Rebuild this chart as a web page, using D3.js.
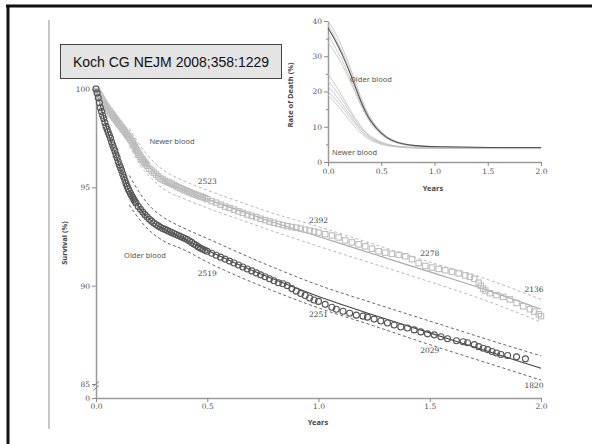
<!DOCTYPE html>
<html><head><meta charset="utf-8">
<script src="https://cdn.jsdelivr.net/npm/d3@7"></script>
<style>
html,body{margin:0;padding:0;background:#fff;}
svg{display:block;}
</style></head>
<body>
<script>
// ---------- DATA ----------
const citation = "Koch CG NEJM 2008;358:1229";
const seriesNames = ["Newer blood", "Older blood"];
const mainXTicks = [0, 0.5, 1, 1.5, 2];
const mainYTicks = [0, 85, 90, 95, 100];
const insetXTicks = [0, 0.5, 1, 1.5, 2];
const insetYTicks = [0, 10, 20, 30, 40];
const insetYMinor = [5, 15, 25, 35];

// Kaplan-Meier points, newer blood (years, survival %)
const newerT = [0,0.005,0.01,0.015,0.02,0.025,0.03,0.035,0.04,0.045,0.05,0.055,0.06,0.065,0.07,0.075,0.08,0.085,0.09,0.095,0.1,0.105,0.11,0.115,0.12,0.125,0.13,0.135,0.14,0.145,0.15,0.155,0.16,0.165,0.17,0.175,0.18,0.185,0.19,0.195,0.2,0.205,0.21,0.215,0.22,0.225,0.23,0.24,0.25,0.26,0.27,0.28,0.29,0.3,0.31,0.32,0.33,0.34,0.35,0.36,0.37,0.38,0.39,0.4,0.41,0.42,0.43,0.44,0.45,0.46,0.47,0.48,0.49,0.5,0.52,0.54,0.56,0.58,0.6,0.62,0.64,0.66,0.68,0.7,0.72,0.74,0.76,0.78,0.8,0.82,0.84,0.86,0.88,0.9,0.92,0.94,0.96,0.98,1.0,1.03,1.06,1.09,1.12,1.15,1.18,1.21,1.24,1.27,1.3,1.33,1.36,1.39,1.42,1.45,1.48,1.51,1.54,1.57,1.6,1.63,1.66,1.68,1.7,1.72,1.73,1.74,1.75,1.77,1.8,1.83,1.86,1.89,1.92,1.95,1.97,1.99,2.0];
const newerS = [100,99.9,99.8,99.7,99.6,99.5,99.4,99.3,99.2,99.12,99.05,98.95,98.88,98.8,98.72,98.65,98.57,98.5,98.42,98.35,98.27,98.2,98.12,98.05,97.97,97.9,97.82,97.75,97.67,97.6,97.52,97.43,97.35,97.25,97.15,97.05,96.95,96.85,96.75,96.65,96.55,96.45,96.4,96.3,96.25,96.18,96.1,95.95,95.85,95.75,95.65,95.55,95.45,95.4,95.33,95.28,95.23,95.18,95.12,95.06,95.0,94.95,94.9,94.85,94.8,94.75,94.7,94.66,94.62,94.58,94.53,94.5,94.45,94.4,94.3,94.22,94.12,94.02,93.95,93.87,93.78,93.7,93.62,93.55,93.48,93.4,93.33,93.26,93.2,93.14,93.08,93.03,92.98,92.95,92.9,92.85,92.8,92.75,92.7,92.62,92.55,92.45,92.3,92.2,92.1,92.0,91.88,91.75,91.68,91.62,91.57,91.5,91.35,91.15,91.0,90.92,90.85,90.78,90.7,90.62,90.52,90.45,90.35,90.15,90.0,89.85,89.75,89.62,89.52,89.43,89.3,89.12,88.95,88.8,88.68,88.55,88.45];

// Kaplan-Meier points, older blood
const olderT = [0,0.005,0.01,0.015,0.02,0.025,0.03,0.035,0.04,0.045,0.05,0.055,0.06,0.065,0.07,0.075,0.08,0.085,0.09,0.095,0.1,0.105,0.11,0.115,0.12,0.125,0.13,0.135,0.14,0.145,0.15,0.155,0.16,0.165,0.17,0.175,0.18,0.19,0.2,0.21,0.22,0.23,0.24,0.25,0.26,0.27,0.28,0.29,0.3,0.31,0.32,0.33,0.34,0.35,0.36,0.37,0.38,0.39,0.4,0.41,0.42,0.43,0.44,0.45,0.46,0.47,0.48,0.49,0.5,0.52,0.54,0.56,0.58,0.6,0.62,0.64,0.66,0.68,0.7,0.72,0.74,0.76,0.78,0.8,0.82,0.84,0.86,0.88,0.9,0.92,0.94,0.96,0.98,1.0,1.03,1.06,1.08,1.11,1.14,1.17,1.2,1.22,1.25,1.28,1.31,1.34,1.37,1.4,1.43,1.46,1.49,1.52,1.55,1.58,1.62,1.65,1.67,1.7,1.72,1.74,1.76,1.78,1.8,1.82,1.85,1.89,1.93];
const olderS = [100,99.8,99.55,99.3,99.05,98.85,98.65,98.5,98.3,98.1,97.95,97.8,97.65,97.5,97.3,97.15,97.0,96.85,96.65,96.5,96.3,96.15,96.0,95.85,95.68,95.52,95.36,95.2,95.05,94.92,94.8,94.69,94.58,94.48,94.38,94.29,94.2,94.03,93.88,93.74,93.61,93.49,93.38,93.28,93.19,93.11,93.04,92.97,92.91,92.86,92.81,92.75,92.7,92.65,92.6,92.55,92.5,92.45,92.4,92.35,92.27,92.2,92.12,92.05,91.97,91.9,91.85,91.8,91.75,91.65,91.55,91.45,91.35,91.25,91.15,91.05,90.95,90.85,90.75,90.65,90.55,90.45,90.35,90.25,90.15,90.1,90.0,89.85,89.72,89.6,89.5,89.37,89.27,89.2,89.05,88.9,88.8,88.7,88.6,88.5,88.45,88.4,88.3,88.2,88.1,88.0,87.9,87.85,87.75,87.65,87.55,87.5,87.4,87.3,87.2,87.15,87.1,87.0,86.9,86.82,86.75,86.65,86.58,86.5,86.45,86.38,86.28];

// fitted model curves and 95% bands
const newerFitT = [0,0.05,0.1,0.15,0.2,0.25,0.3,0.4,0.5,0.65,0.75,1.0,1.25,1.5,1.75,2.0];
const newerFit  = [100,99.05,98.3,97.55,96.6,95.9,95.4,94.85,94.4,93.8,93.4,92.5,91.6,90.7,89.8,88.8];
const newerBandT = [0.15,0.2,0.25,0.3,0.4,0.5,0.65,0.75,1.0,1.25,1.5,1.75,2.0];
const newerUpper = [98.0,97.1,96.4,95.9,95.3,94.85,94.25,93.85,93.0,92.1,91.2,90.35,89.3];
const newerLower = [97.1,96.1,95.45,94.95,94.4,93.95,93.35,92.95,92.0,91.1,90.2,89.25,88.15];

const olderFitT = [0,0.05,0.1,0.15,0.2,0.25,0.3,0.4,0.5,0.75,1.0,1.25,1.5,1.75,2.0];
const olderFit  = [100,97.95,96.3,94.8,93.88,93.28,92.9,92.35,91.8,90.55,89.45,88.5,87.6,86.7,85.8];
const olderBandT = [0.15,0.2,0.25,0.3,0.4,0.5,0.75,1.0,1.25,1.5,1.75,2.0];
const olderUpper = [95.6,94.65,93.95,93.5,92.9,92.4,91.15,90.03,89.1,88.2,87.3,86.43];
const olderLower = [94.1,93.3,92.7,92.3,91.8,91.2,89.95,88.87,87.95,87.0,86.1,85.2];

// number at risk labels
const riskT = [0.5, 1.0, 1.5, 2.0];
const newerRisk = ["2523", "2392", "2278", "2136"];
const newerRiskY = [95.15, 93.2, 91.5, 89.7];
const olderRisk = ["2519", "2251", "2029", "1820"];
const olderRiskY = [90.5, 88.4, 86.6, 84.6];

// inset: rate of death (%)
const insetT = [0,0.05,0.1,0.15,0.2,0.25,0.3,0.35,0.4,0.5,0.6,0.7,0.8,1.0,1.5,2.0];
const olderRateMain = [38,35.5,32.6,29.4,25.8,21.8,17.8,14.3,11.5,7.9,6.0,5.1,4.6,4.3,4.1,4.1];
const olderRateA = [40,37.8,34.8,31.3,27.5,23.3,19.0,15.3,12.3,8.3,6.2,5.2,4.7,4.3,4.1,4.1];
const olderRateB = [39,36.4,33.4,30.2,26.5,22.4,18.4,14.8,11.9,8.1,6.1,5.2,4.6,4.3,4.1,4.1];
const olderRateC = [36,33.5,30.8,27.8,24.4,20.8,17.2,13.9,11.2,7.7,5.9,5.0,4.5,4.2,4.0,4.0];
const olderRateD = [34,31.8,29.4,26.6,23.5,20.1,16.6,13.5,10.9,7.5,5.8,4.9,4.5,4.2,4.0,4.0];
const newerRate1 = [25,22.8,20.4,17.8,15.2,12.6,10.4,8.6,7.2,5.5,4.7,4.3,4.1,4.0,3.9,3.9];
const newerRate2 = [23,21.2,19.2,16.9,14.5,12.1,10.0,8.3,7.0,5.4,4.6,4.3,4.1,4.0,3.9,3.9];
const newerRate3 = [21.5,19.8,17.9,15.8,13.6,11.4,9.5,7.9,6.7,5.2,4.5,4.2,4.0,3.9,3.9,3.9];
const newerRate4 = [20,18.5,16.8,14.9,12.9,10.9,9.1,7.6,6.5,5.1,4.5,4.2,4.0,3.9,3.9,3.9];
const newerRate5 = [19,17.4,15.7,13.8,11.9,10.0,8.4,7.1,6.1,4.9,4.4,4.1,4.0,3.9,3.8,3.8];

// ---------- DRAW ----------
const W = 592, H = 444;
const svg = d3.select("body").append("svg").attr("width", W).attr("height", H);
const sans = "'Noto Sans', 'DejaVu Sans', sans-serif";
const serif = "'DejaVu Serif', 'Liberation Serif', serif";

// slide frame
svg.append("line").attr("x1",6).attr("x2",W).attr("y1",6).attr("y2",6).attr("stroke","#111").attr("stroke-width",3);
svg.append("line").attr("x1",8).attr("x2",8).attr("y1",5).attr("y2",H).attr("stroke","#111").attr("stroke-width",3);
svg.append("line").attr("x1",49).attr("x2",49).attr("y1",20).attr("y2",429).attr("stroke","#c8c8c8").attr("stroke-width",2);

// main scales
const x = d3.scaleLinear().domain([0,2]).range([96,541]);
const y = d3.scaleLinear().domain([0,84.3,85,100]).range([398,391,384,89]);

function styleAxis(g){
  g.selectAll(".domain").attr("stroke","#9a9a9a").attr("stroke-width",1.5);
  g.selectAll(".tick line").attr("stroke","#8a8a8a").attr("stroke-width",1);
  g.selectAll(".tick text").attr("fill","#555").style("font-family",serif).style("font-size","7.5px");
}

const gx = svg.append("g").attr("transform","translate(0,398)")
  .call(d3.axisBottom(x).tickValues(mainXTicks).tickFormat(d3.format(".1f")).tickSize(4).tickSizeOuter(0).tickPadding(2));
styleAxis(gx);
const gy = svg.append("g").attr("transform","translate(96,0)")
  .call(d3.axisLeft(y).tickValues(mainYTicks).tickFormat(d3.format("d")).tickSize(4).tickSizeOuter(0).tickPadding(2));
styleAxis(gy);
// axis break marks
svg.append("path")
  .attr("d", `M${x(0)-3},${y(84.75)} L${x(0)+3},${y(84.95)-3} M${x(0)-3},${y(84.45)+1} L${x(0)+3},${y(84.65)-2}`)
  .attr("stroke","#888").attr("stroke-width",1).attr("fill","none");

// bands and fits
const lineFn = (tArr, vArr, sx, sy, curve) => d3.line().curve(curve || d3.curveMonotoneX)
  .x((d,i)=>sx(tArr[i])).y((d,i)=>sy(vArr[i]))(vArr);

const newerCol = "#b8b8b8";
svg.append("path").attr("d", lineFn(newerBandT,newerUpper,x,y)).attr("fill","none").attr("stroke",newerCol).attr("stroke-width",1).attr("stroke-dasharray","3,2.5");
svg.append("path").attr("d", lineFn(newerBandT,newerLower,x,y)).attr("fill","none").attr("stroke",newerCol).attr("stroke-width",1).attr("stroke-dasharray","3,2.5");
svg.append("path").attr("d", lineFn(olderBandT,olderUpper,x,y)).attr("fill","none").attr("stroke","#666").attr("stroke-width",1).attr("stroke-dasharray","3,2.5");
svg.append("path").attr("d", lineFn(olderBandT,olderLower,x,y)).attr("fill","none").attr("stroke","#666").attr("stroke-width",1).attr("stroke-dasharray","3,2.5");
svg.append("path").attr("d", lineFn(newerFitT,newerFit,x,y)).attr("fill","none").attr("stroke","#aaa").attr("stroke-width",1.2);
svg.append("path").attr("d", lineFn(olderFitT,olderFit,x,y)).attr("fill","none").attr("stroke","#444").attr("stroke-width",1.1);

// markers
svg.append("g").selectAll("rect").data(newerS).join("rect")
  .attr("x",(d,i)=>x(newerT[i])-2.7).attr("y",d=>y(d)-2.7).attr("width",5.4).attr("height",5.4)
  .attr("fill","none").attr("stroke","#bdbdbd").attr("stroke-width",1.1);
svg.append("g").selectAll("circle").data(olderS).join("circle")
  .attr("cx",(d,i)=>x(olderT[i])).attr("cy",d=>y(d)).attr("r",3)
  .attr("fill","none").attr("stroke","#555").attr("stroke-width",1.1);

// number at risk
const riskG = svg.append("g").style("font-family",serif).style("font-size","7.5px").attr("fill","#444").attr("text-anchor","middle");
riskG.selectAll("text.n").data(newerRisk).join("text").attr("class","n")
  .attr("x",(d,i)=>Math.min(x(riskT[i]),534)).attr("y",(d,i)=>y(newerRiskY[i])).text(d=>d);
riskG.selectAll("text.o").data(olderRisk).join("text").attr("class","o")
  .attr("x",(d,i)=>Math.min(x(riskT[i]),534)).attr("y",(d,i)=>y(olderRiskY[i])).text(d=>d);

// series labels
svg.append("text").attr("x",172).attr("y",144).attr("text-anchor","middle").attr("fill","#555")
  .style("font-family",sans).style("font-size","7.5px").text(seriesNames[0]);
svg.append("text").attr("x",145).attr("y",258).attr("text-anchor","middle").attr("fill","#555")
  .style("font-family",sans).style("font-size","7.5px").text(seriesNames[1]);

// axis titles
svg.append("text").attr("x",318).attr("y",425).attr("text-anchor","middle").attr("fill","#444")
  .style("font-family",sans).style("font-size","7.5px").style("font-weight","bold").text("Years");
svg.append("text").attr("transform","translate(67,243) rotate(-90)").attr("text-anchor","middle").attr("fill","#444")
  .style("font-family",sans).style("font-size","7.5px").style("font-weight","bold").text("Survival (%)");

// ---------- INSET ----------
const xi = d3.scaleLinear().domain([0,2]).range([328,541]);
const yi = d3.scaleLinear().domain([0,40]).range([162,21]);
svg.append("defs").append("clipPath").attr("id","insetClip")
  .append("rect").attr("x",280).attr("y",17).attr("width",300).attr("height",190);
const inset = svg.append("g").attr("clip-path","url(#insetClip)");

const gxi = inset.append("g").attr("transform","translate(0,162)")
  .call(d3.axisBottom(xi).tickValues(insetXTicks).tickFormat(d3.format(".1f")).tickSize(4).tickSizeOuter(0).tickPadding(3));
styleAxis(gxi);
const gyi = inset.append("g").attr("transform","translate(328,0)")
  .call(d3.axisLeft(yi).tickValues(insetYTicks).tickFormat(d3.format("d")).tickSize(4).tickSizeOuter(0).tickPadding(2));
styleAxis(gyi);
inset.append("g").attr("transform","translate(328,0)")
  .call(d3.axisLeft(yi).tickValues(insetYMinor).tickFormat("").tickSize(2).tickSizeOuter(0))
  .call(g=>{g.select(".domain").remove(); g.selectAll("line").attr("stroke","#8a8a8a");});

const lightRates = [newerRate5,newerRate4,newerRate3,newerRate2,newerRate1,olderRateD,olderRateC,olderRateB,olderRateA];
inset.append("g").selectAll("path").data(lightRates).join("path")
  .attr("d", d=>lineFn(insetT,d,xi,yi,d3.curveBasis))
  .attr("fill","none").attr("stroke","#c4c4c4").attr("stroke-width",0.9);
inset.append("path").attr("d", lineFn(insetT,olderRateMain,xi,yi,d3.curveBasis))
  .attr("fill","none").attr("stroke","#555").attr("stroke-width",1.1);

inset.append("text").attr("x",350).attr("y",82).attr("fill","#555")
  .style("font-family",sans).style("font-size","7.5px").text(seriesNames[1]);
inset.append("text").attr("x",332).attr("y",155).attr("fill","#555")
  .style("font-family",sans).style("font-size","7.5px").text(seriesNames[0]);
inset.append("text").attr("x",433).attr("y",191).attr("text-anchor","middle").attr("fill","#444")
  .style("font-family",sans).style("font-size","7.5px").style("font-weight","bold").text("Years");
inset.append("text").attr("transform","translate(293,95) rotate(-90)").attr("text-anchor","middle").attr("fill","#444")
  .style("font-family",sans).style("font-size","7.5px").style("font-weight","bold").text("Rate of Death (%)");

// citation box
svg.append("rect").attr("x",60.5).attr("y",44.5).attr("width",221).attr("height",34)
  .attr("fill","#e4e4e4").attr("stroke","#444").attr("stroke-width",1);
svg.append("text").attr("x",171).attr("y",67).attr("text-anchor","middle").attr("fill","#111")
  .style("font-family","'Liberation Sans', Arial, sans-serif").style("font-size","14px").text(citation);
</script>
</body></html>
